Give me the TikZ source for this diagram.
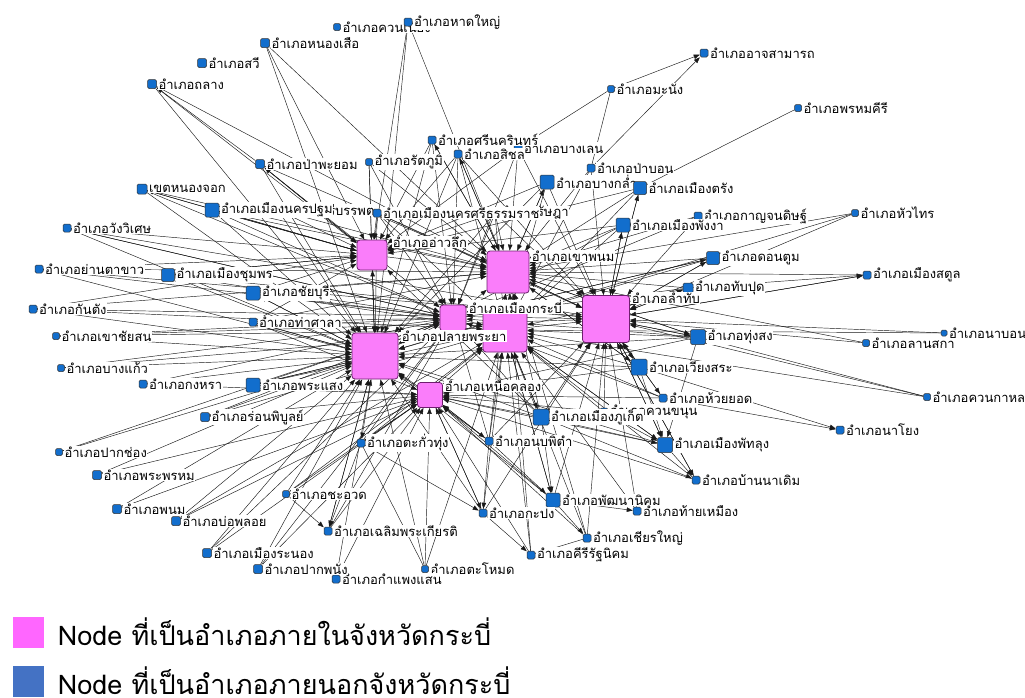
\documentclass[tikz,border=0pt]{standalone}
\usepackage{fontspec}
\newfontfamily\thaifont[Script=Thai]{Loma}
\usetikzlibrary{arrows.meta,positioning,backgrounds}
\definecolor{krabipink}{RGB}{250,125,250}
\definecolor{keypink}{RGB}{255,102,255}
\definecolor{distblue}{RGB}{18,110,205}
\definecolor{keyblue}{RGB}{68,114,196}
\definecolor{hubrim}{RGB}{110,30,110}

\begin{document}
\begin{tikzpicture}[
    x=1pt, y=-1pt,
    hub/.style={draw=hubrim, fill=krabipink, rounded corners=3pt, minimum size=#1, inner sep=0pt, line width=0.8pt},
    dist/.style={draw=black!80, fill=distblue, rounded corners=1.5pt, minimum size=#1, inner sep=0pt, line width=0.5pt},
    dist/.default=8pt,
    lbl/.style={fill=white, inner sep=0.6pt, anchor=west, font=\thaifont\fontsize{13}{14}\selectfont},
    link/.style={draw=black!90, line width=0.45pt, -{Triangle[length=6pt,width=4.5pt]}},
    plain/.style={draw=black!90, line width=0.45pt},
    keytext/.style={anchor=west, inner sep=0pt, font=\thaifont\fontsize{27}{30}\selectfont}
]
\useasboundingbox (0,0) rectangle (1025,697);

% อำเภอนอกจังหวัดกระบี่ (ป้ายที่ถูกบังวาดก่อน)
\foreach \id/\px/\py/\sz/\txt in {
    kanchanadit/698/216/8/อำเภอกาญจนดิษฐ์,
    sribanphot/278/210/8/อำเภอศรีบรรพต,
    ratsada/495/213/8/อำเภอรัษฎา,
    khuankhanun/604/412/8/อำเภอควนขนุน,
    banglen/518/148/8/อำเภอบางเลน,
    khuanniang/337/27/7/อำเภอควนเนียง,
    hatyai/408/22/8/อำเภอหาดใหญ่,
    nongsuea/265/43/9/อำเภอหนองเสือ,
    sawi/202/63/9/อำเภอสวี,
    thalang/152/84/9/อำเภอถลาง,
    payom/260/164/9/อำเภอป่าพะยอม,
    nongchok/142/189/10/เขตหนองจอก,
    rattaphum/369/162/7/อำเภอรัตภูมิ,
    srinagarindra/432/140/8/อำเภอศรีนครินทร์,
    sichon/458/154/8/อำเภอสิชล,
    manang/611/89/7/อำเภอมะนัง,
    atsamat/704/53/8/อำเภออาจสามารถ,
    phromkhiri/798/108/7/อำเภอพรหมคีรี,
    pabon/591/168/8/อำเภอป่าบอน,
    bangklam/547/182/14/อำเภอบางกล่ำ,
    muangtrang/640/188/13/อำเภอเมืองตรัง,
    phangnga/623/225/14/อำเภอเมืองพังงา,
    huasai/855/213/7/อำเภอหัวไทร,
    dontum/713/258/13/อำเภอดอนตูม,
    satun/867/275/8/อำเภอเมืองสตูล,
    thapput/688/288/10/อำเภอทับปุด,
    thungsong/698/337/15/อำเภอทุ่งสง,
    lansaka/866/343/7/อำเภอลานสกา,
    nabon/944/333/6/อำเภอนาบอน,
    wiangsa/639/367/16/อำเภอเวียงสระ,
    khuankalong/927/397/7/อำเภอควนกาหลง,
    huaiyot/663/398/8/อำเภอห้วยยอด,
    nayong/840/430/8/อำเภอนาโยง,
    phuket/541/417/16/อำเภอเมืองภูเก็ต,
    phatthalung/665/445/15/อำเภอเมืองพัทลุง,
    bannadoem/696/480/8/อำเภอบ้านนาเดิม,
    phatthananikhom/553/500/14/อำเภอพัฒนานิคม,
    thaimueang/637/511/8/อำเภอท้ายเหมือง,
    chianyai/587/538/8/อำเภอเชียรใหญ่,
    khirirat/531/555/8/อำเภอคีรีรัฐนิคม,
    kapong/483/513/8/อำเภอกะปง,
    nopphitam/489/441/8/อำเภอนบพิตำ,
    takuathung/361/443/8/อำเภอตะกั่วทุ่ง,
    chaauat/286/494/7/อำเภอชะอวด,
    chaloem/328/531/8/อำเภอเฉลิมพระเกียรติ,
    tamot/425/569/7/อำเภอตะโหมด,
    kamphaengsaen/336/579/8/อำเภอกำแพงแสน,
    pakphanang/258/569/9/อำเภอปากพนัง,
    ranong/207/553/9/อำเภอเมืองระนอง,
    boploi/176/521/9/อำเภอบ่อพลอย,
    phanom/117/509/9/อำเภอพนม,
    phraphrom/97/475/9/อำเภอพระพรหม,
    pakchong/59/452/7/อำเภอปากช่อง,
    ronphibun/205/417/9/อำเภอร่อนพิบูลย์,
    kongra/143/384/8/อำเภอกงหรา,
    phrasaeng/253/385/14/อำเภอพระแสง,
    bangkaeo/61/368/7/อำเภอบางแก้ว,
    khaochaison/56/336/7/อำเภอเขาชัยสน,
    kantang/33/309/8/อำเภอกันตัง,
    thasala/253/322/8/อำเภอท่าศาลา,
    chaiburi/253/293/14/อำเภอชัยบุรี,
    yantakhao/39/269/8/อำเภอย่านตาขาว,
    chumphon/168/275/13/อำเภอเมืองชุมพร,
    wangwiset/67/228/8/อำเภอวังวิเศษ,
    nakhonpathom/212/210/14/อำเภอเมืองนครปฐม,
    nakhonsri/377/213/8/อำเภอเมืองนครศรีธรรมราช} {
    \node[dist=\sz pt] (\id) at (\px,\py) {};
    \node[lbl, right=1pt of \id] (\id-l) {\txt};
}

% อำเภอในจังหวัดกระบี่
\node[hub=30pt] (aoluek) at (372,255) {};
\node[hub=42pt] (khaophanom) at (508,272) {};
\node[hub=44pt] (khlongthom) at (505,330) {};
\node[hub=26pt] (muangkrabi) at (453,318) {};
\node[hub=46pt] (plaiphraya) at (375,356) {};
\node[hub=47pt] (lamthap) at (606,319) {};
\node[hub=25pt] (nuaklong) at (430,395) {};
\node[lbl] (aoluek-l) at (392,242) {อำเภออ่าวลึก};
\node[lbl] (khaophanom-l) at (531,256) {อำเภอเขาพนม};
\node[lbl] (muangkrabi-l) at (468,307) {อำเภอเมืองกระบี่};
\node[lbl] (plaiphraya-l) at (401,336) {อำเภอปลายพระยา};
\node[lbl] (lamthap-l) at (631,298) {อำเภอลำทับ};
\node[lbl] (nuaklong-l) at (444,386) {อำเภอเหนือคลอง};

\begin{scope}[on background layer]
% เข้าสู่อ่าวลึก
\foreach \s/\t in {thalang/aoluek, nongsuea/aoluek, payom/aoluek, nongchok/aoluek, nakhonpathom/aoluek,
    rattaphum/aoluek, hatyai/aoluek, srinagarindra/aoluek, sichon/aoluek, nakhonsri/aoluek,
    wangwiset/aoluek, chumphon/aoluek, sribanphot/aoluek, ratsada/aoluek, bangklam/aoluek,
    phangnga/aoluek, yantakhao/aoluek, chaiburi/aoluek, thasala/aoluek, kantang/aoluek,
    banglen/aoluek, muangtrang/aoluek, phuket/aoluek}
    \draw[link] (\s) -- (\t);
% เข้าสู่ปลายพระยา
\foreach \s/\t in {payom/plaiphraya, nongchok/plaiphraya, nakhonpathom/plaiphraya, chumphon/plaiphraya,
    wangwiset/plaiphraya, yantakhao/plaiphraya, kantang/plaiphraya, khaochaison/plaiphraya,
    bangkaeo/plaiphraya, kongra/plaiphraya, ronphibun/plaiphraya, pakchong/plaiphraya,
    phraphrom/plaiphraya, phanom/plaiphraya, boploi/plaiphraya, ranong/plaiphraya,
    pakphanang/plaiphraya, chaauat/plaiphraya, chaloem/plaiphraya, kamphaengsaen/plaiphraya,
    tamot/plaiphraya, thasala/plaiphraya, chaiburi/plaiphraya, phrasaeng/plaiphraya,
    sribanphot/plaiphraya, nakhonsri/plaiphraya, thalang/plaiphraya, nongsuea/plaiphraya,
    hatyai/plaiphraya, rattaphum/plaiphraya, srinagarindra/plaiphraya, sichon/plaiphraya,
    bangklam/plaiphraya, phangnga/plaiphraya, dontum/plaiphraya, thungsong/plaiphraya,
    wiangsa/plaiphraya, phuket/plaiphraya, phatthalung/plaiphraya, phatthananikhom/plaiphraya,
    kapong/plaiphraya, nopphitam/plaiphraya, ratsada/plaiphraya, huasai/plaiphraya}
    \draw[link] (\s) -- (\t);
% เข้าสู่เขาพนม
\foreach \s/\t in {sichon/khaophanom, srinagarindra/khaophanom, banglen/khaophanom, bangklam/khaophanom,
    pabon/khaophanom, muangtrang/khaophanom, phangnga/khaophanom, nakhonsri/khaophanom,
    ratsada/khaophanom, rattaphum/khaophanom, dontum/khaophanom, huasai/khaophanom,
    kanchanadit/khaophanom, thapput/khaophanom, payom/khaophanom, nakhonpathom/khaophanom,
    chaiburi/khaophanom, thasala/khaophanom, kantang/khaophanom, yantakhao/khaophanom,
    phuket/khaophanom, nopphitam/khaophanom, wiangsa/khaophanom, thungsong/khaophanom,
    nongchok/khaophanom, thalang/khaophanom, nongsuea/khaophanom, hatyai/khaophanom,
    chianyai/khaophanom, khirirat/khaophanom, sribanphot/khaophanom, satun/khaophanom,
    lansaka/khaophanom}
    \draw[link] (\s) -- (\t);
% เข้าสู่ลำทับ
\foreach \s/\t in {muangtrang/lamthap, phangnga/lamthap, kanchanadit/lamthap, huasai/lamthap,
    dontum/lamthap, satun/lamthap, thapput/lamthap, thungsong/lamthap, lansaka/lamthap,
    nabon/lamthap, wiangsa/lamthap, huaiyot/lamthap, phuket/lamthap, khuankhanun/lamthap,
    phatthalung/lamthap, bannadoem/lamthap, phatthananikhom/lamthap, chianyai/lamthap,
    pabon/lamthap, bangklam/lamthap, banglen/lamthap, nakhonsri/lamthap, ratsada/lamthap,
    sichon/lamthap, khuankalong/lamthap, nopphitam/lamthap, kapong/lamthap, thaimueang/lamthap,
    yantakhao/lamthap, kantang/lamthap, khaochaison/lamthap, chumphon/lamthap, wangwiset/lamthap}
    \draw[link] (\s) -- (\t);
% เข้าสู่เมืองกระบี่
\foreach \s/\t in {nakhonsri/muangkrabi, ratsada/muangkrabi, sichon/muangkrabi, srinagarindra/muangkrabi,
    banglen/muangkrabi, chumphon/muangkrabi, chaiburi/muangkrabi, thasala/muangkrabi,
    khaochaison/muangkrabi, bangkaeo/muangkrabi, phrasaeng/muangkrabi, kongra/muangkrabi,
    takuathung/muangkrabi, nopphitam/muangkrabi, phuket/muangkrabi, dontum/muangkrabi,
    thungsong/muangkrabi, yantakhao/muangkrabi, wangwiset/muangkrabi, payom/muangkrabi,
    rattaphum/muangkrabi, thapput/muangkrabi, huaiyot/muangkrabi, chaloem/muangkrabi,
    pakphanang/muangkrabi, ranong/muangkrabi, pakchong/muangkrabi, ronphibun/muangkrabi,
    nakhonpathom/muangkrabi, kanchanadit/muangkrabi, nongchok/muangkrabi}
    \draw[link] (\s) -- (\t);
% เข้าสู่อำเภอที่ไม่มีป้าย
\foreach \s/\t in {phuket/khlongthom, wiangsa/khlongthom, thungsong/khlongthom, huaiyot/khlongthom,
    phatthalung/khlongthom, phatthananikhom/khlongthom, kapong/khlongthom, nopphitam/khlongthom,
    bangklam/khlongthom, pabon/khlongthom, phangnga/khlongthom, muangtrang/khlongthom,
    nakhonsri/khlongthom, ratsada/khlongthom, sichon/khlongthom, thapput/khlongthom,
    khirirat/khlongthom, chianyai/khlongthom, khuankhanun/khlongthom, kantang/khlongthom,
    khaochaison/khlongthom, ronphibun/khlongthom, wangwiset/khlongthom, bangkaeo/khlongthom,
    takuathung/khlongthom, chaauat/khlongthom, tamot/khlongthom, boploi/khlongthom,
    phrasaeng/khlongthom, chaiburi/khlongthom, nabon/khlongthom, khuankalong/khlongthom,
    bannadoem/khlongthom, thaimueang/khlongthom}
    \draw[link] (\s) -- (\t);
% เข้าสู่เหนือคลอง
\foreach \s/\t in {takuathung/nuaklong, nopphitam/nuaklong, kapong/nuaklong, chaloem/nuaklong,
    tamot/nuaklong, phuket/nuaklong, phatthananikhom/nuaklong, chianyai/nuaklong,
    khirirat/nuaklong, chaauat/nuaklong, pakphanang/nuaklong, ronphibun/nuaklong,
    phrasaeng/nuaklong, boploi/nuaklong, ranong/nuaklong, kamphaengsaen/nuaklong,
    thungsong/nuaklong, wiangsa/nuaklong, huaiyot/nuaklong, bannadoem/nuaklong, phatthalung/nuaklong,
    phanom/nuaklong, phraphrom/nuaklong, kongra/nuaklong, thasala/nuaklong, khuankhanun/nuaklong}
    \draw[link] (\s) -- (\t);
% ออกจากอำเภอในกระบี่
\foreach \s/\t in {aoluek/payom, aoluek/nongchok, aoluek/nakhonpathom, aoluek/chumphon,
    plaiphraya/chaiburi, plaiphraya/phrasaeng, plaiphraya/takuathung, plaiphraya/thasala,
    plaiphraya/chaloem, khaophanom/bangklam, khaophanom/sichon, khaophanom/srinagarindra,
    lamthap/muangtrang, lamthap/phangnga, lamthap/dontum, lamthap/thapput, lamthap/satun,
    lamthap/thungsong, lamthap/wiangsa, lamthap/huaiyot, lamthap/phatthalung, lamthap/bannadoem,
    khlongthom/phuket, khlongthom/phatthananikhom, nuaklong/nopphitam, nuaklong/kapong,
    muangkrabi/dontum, khaophanom/thungsong, khaophanom/wiangsa, khlongthom/phatthalung,
    aoluek/plaiphraya, plaiphraya/aoluek, aoluek/khaophanom, khaophanom/lamthap,
    muangkrabi/khaophanom, plaiphraya/muangkrabi, nuaklong/plaiphraya, khlongthom/lamthap,
    nuaklong/khlongthom, lamthap/khaophanom}
    \draw[link] (\s) -- (\t);
% ระหว่างอำเภอนอกกระบี่
\foreach \s/\t in {manang/atsamat, pabon/atsamat, payom/thalang, kapong/khirirat, chaauat/chaloem,
    takuathung/chaloem, phatthalung/bannadoem, phuket/phatthalung, phuket/bannadoem,
    nopphitam/kapong, takuathung/kapong, phuket/phatthananikhom, nopphitam/phatthananikhom,
    phatthananikhom/chianyai, phatthananikhom/thaimueang, huaiyot/nayong, wiangsa/nayong,
    thungsong/phatthalung, wiangsa/phatthalung, khuankhanun/phatthalung, thapput/satun}
    \draw[link] (\s) -- (\t);
\foreach \s/\t in {manang/pabon, manang/banglen, phromkhiri/muangtrang, thungsong/khuankalong,
    takuathung/tamot, chianyai/khirirat}
    \draw[plain] (\s) -- (\t);
\end{scope}

% คำอธิบายสัญลักษณ์
\node[fill=keypink, minimum size=31pt, inner sep=0pt] (keyin) at (28,632) {};
\node[keytext, right=14pt of keyin] (keyin-l) {Node ที่เป็นอำเภอภายในจังหวัดกระบี่};
\node[fill=keyblue, minimum size=31pt, inner sep=0pt] (keyout) at (28,681) {};
\node[keytext, right=14pt of keyout] (keyout-l) {Node ที่เป็นอำเภอภายนอกจังหวัดกระบี่};
\end{tikzpicture}
\end{document}
